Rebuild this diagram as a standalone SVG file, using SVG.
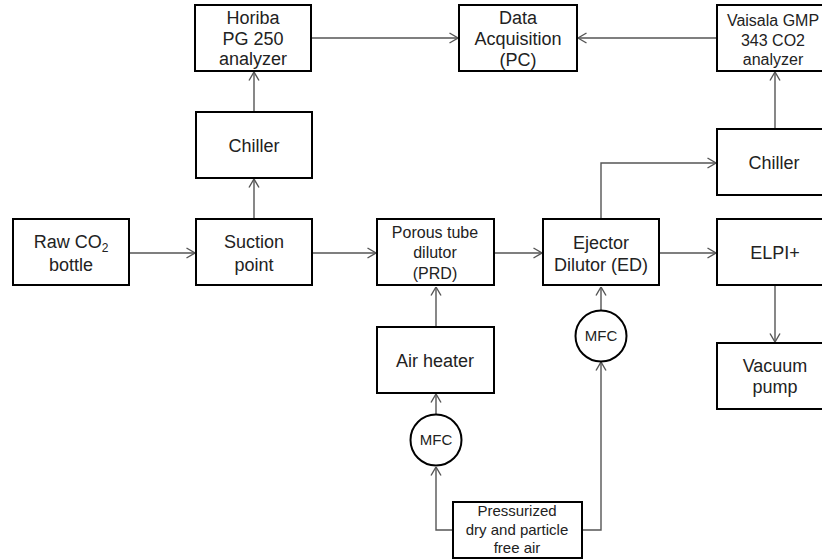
<svg xmlns="http://www.w3.org/2000/svg" width="822" height="560" viewBox="0 0 822 560">
<defs>
<style>
.box{fill:#fff;stroke:#000;stroke-width:2}
.c{fill:none;stroke:#555;stroke-width:1.4}
text{font-family:"Liberation Sans",Arial,sans-serif;font-size:18px;fill:#222;text-anchor:middle}
.s{font-size:16px}
.xs{font-size:15px}
.m{font-size:15px}
</style>
<marker id="a" viewBox="0 0 10 12" refX="9.5" refY="6" markerWidth="10" markerHeight="12" markerUnits="userSpaceOnUse" orient="auto">
<path d="M1,1 L9.5,6 L1,11" fill="none" stroke="#555" stroke-width="1.4"/>
</marker>
</defs>
<rect width="822" height="560" fill="#fff"/>
<g id="connectors">
<path class="c" d="M129,253 H195" marker-end="url(#a)"/>
<path class="c" d="M311,253 H376" marker-end="url(#a)"/>
<path class="c" d="M494,253 H542" marker-end="url(#a)"/>
<path class="c" d="M659,253 H716" marker-end="url(#a)"/>
<path class="c" d="M254,219 V179" marker-end="url(#a)"/>
<path class="c" d="M254,112 V72" marker-end="url(#a)"/>
<path class="c" d="M311,38 H458" marker-end="url(#a)"/>
<path class="c" d="M717,38 H578" marker-end="url(#a)"/>
<path class="c" d="M601,219 V163 H716" marker-end="url(#a)"/>
<path class="c" d="M775,129 V72" marker-end="url(#a)"/>
<path class="c" d="M775,285 V342" marker-end="url(#a)"/>
<path class="c" d="M436,327 V287" marker-end="url(#a)"/>
<path class="c" d="M436,414 V394" marker-end="url(#a)"/>
<path class="c" d="M453,530 H436 V467" marker-end="url(#a)"/>
<path class="c" d="M582,530 H601 V362" marker-end="url(#a)"/>
<path class="c" d="M601,310 V287" marker-end="url(#a)"/>
</g>
<g id="horiba"><rect class="box" x="195" y="5" width="116" height="66"/><text x="253" y="24">Horiba</text><text x="253" y="45">PG 250</text><text x="253" y="65">analyzer</text></g>
<g id="daq"><rect class="box" x="459" y="5" width="118" height="66"/><text x="518" y="24">Data</text><text x="518" y="45">Acquisition</text><text x="518" y="66">(PC)</text></g>
<g id="vaisala"><rect class="box" x="717" y="5" width="116" height="66"/><text class="s" x="773" y="26">Vaisala GMP</text><text class="s" x="773" y="46">343 CO2</text><text class="s" x="773" y="65">analyzer</text></g>
<g id="chiller1"><rect class="box" x="196" y="112" width="116" height="66"/><text x="254" y="152">Chiller</text></g>
<g id="chiller2"><rect class="box" x="717" y="129" width="116" height="66"/><text x="774" y="169">Chiller</text></g>
<g id="raw"><rect class="box" x="13" y="219" width="116" height="66"/><text x="71" y="248">Raw CO<tspan font-size="12" dy="4">2</tspan></text><text x="71" y="271">bottle</text></g>
<g id="suction"><rect class="box" x="196" y="219" width="116" height="66"/><text x="254" y="248">Suction</text><text x="254" y="271">point</text></g>
<g id="prd"><rect class="box" x="377" y="219" width="117" height="66"/><text class="s" x="435" y="238">Porous tube</text><text class="s" x="435" y="258">dilutor</text><text class="s" x="435" y="279">(PRD)</text></g>
<g id="ed"><rect class="box" x="543" y="219" width="116" height="66"/><text x="601" y="249">Ejector</text><text x="601" y="271">Dilutor (ED)</text></g>
<g id="elpi"><rect class="box" x="717" y="219" width="116" height="66"/><text x="775" y="259">ELPI+</text></g>
<g id="airheater"><rect class="box" x="377" y="327" width="117" height="66"/><text x="435" y="367">Air heater</text></g>
<g id="vacuum"><rect class="box" x="717" y="343" width="116" height="66"/><text x="775" y="372">Vacuum</text><text x="775" y="393">pump</text></g>
<g id="mfc1"><circle class="box" cx="436" cy="440" r="25.5"/><text class="m" x="436" y="445">MFC</text></g>
<g id="mfc2"><circle class="box" cx="601" cy="336" r="25.5"/><text class="m" x="601" y="341">MFC</text></g>
<g id="air"><rect class="box" x="453" y="502" width="129" height="56"/><text class="xs" x="517" y="516">Pressurized</text><text class="xs" x="517" y="535">dry and particle</text><text class="xs" x="517" y="553">free air</text></g>
</svg>
